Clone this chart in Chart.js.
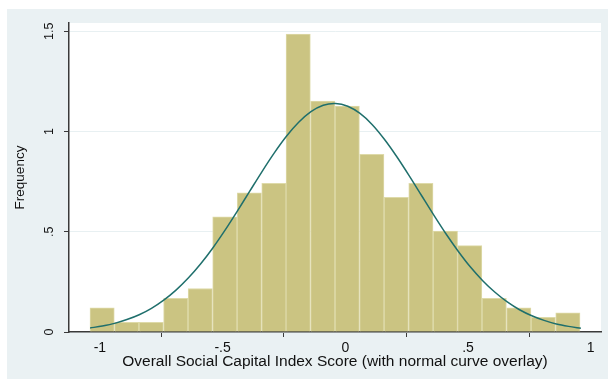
<!DOCTYPE html>
<html><head><meta charset="utf-8">
<script src="https://cdn.jsdelivr.net/npm/chart.js@4"></script>
<style>html,body{margin:0;padding:0;background:#fff;}#wrap{width:608px;height:379px;}</style>
</head><body><div id="wrap"><canvas id="c" width="608" height="379"></canvas></div>
<script>
// Histogram bins (bin centres, width ~0.1) and densities
const binCenters = [-0.991,-0.891,-0.791,-0.691,-0.591,-0.491,-0.391,-0.291,-0.192,-0.092,0.008,0.108,0.208,0.308,0.408,0.507,0.607,0.707,0.807,0.907];
const binDensity = [0.120,0.048,0.048,0.168,0.217,0.574,0.694,0.742,1.486,1.152,1.127,0.886,0.671,0.742,0.503,0.431,0.168,0.120,0.073,0.095];
// Normal curve overlay
const curveX = [-1.04,-0.99,-0.94,-0.89,-0.84,-0.79,-0.74,-0.69,-0.64,-0.59,-0.54,-0.49,-0.44,-0.39,-0.34,-0.29,-0.24,-0.19,-0.14,-0.09,-0.04,0.01,0.06,0.11,0.16,0.21,0.26,0.31,0.36,0.41,0.46,0.51,0.56,0.61,0.66,0.71,0.76,0.81,0.86,0.91,0.96];
const curveY = [0.020,0.030,0.043,0.062,0.086,0.118,0.159,0.209,0.269,0.339,0.419,0.508,0.603,0.701,0.799,0.892,0.976,1.046,1.099,1.131,1.140,1.126,1.090,1.034,0.960,0.874,0.780,0.682,0.584,0.490,0.403,0.324,0.256,0.198,0.150,0.111,0.081,0.058,0.040,0.028,0.019];
const xTickValues = [-1,-0.5,0,0.5,1];
const xTickLabels = ['-1','-.5','0','.5','1'];
const yTickValues = [0,0.5,1,1.5];
const yTickLabels = ['0','.5','1','1.5'];
const xTitle = 'Overall Social Capital Index Score (with normal curve overlay)';
const yTitle = 'Frequency';

const FONT = 'Arial, "Liberation Sans", Helvetica, sans-serif';
const bg = {
  id: 'bg',
  beforeDraw(chart) {
    const {ctx, chartArea: a} = chart;
    ctx.save();
    ctx.fillStyle = '#ffffff';
    ctx.fillRect(0, 0, chart.width, chart.height);
    ctx.fillStyle = '#eaf1f3';
    ctx.fillRect(7, 9, chart.width - 7, chart.height - 9);
    ctx.fillStyle = '#ffffff';
    ctx.fillRect(a.left, a.top, a.right - a.left, a.bottom - a.top);
    ctx.restore();
  }
};

new Chart(document.getElementById('c'), {
  type: 'bar',
  data: {
    datasets: [
      {
        type: 'line',
        order: 0,
        data: curveX.map((x, i) => ({x: x, y: curveY[i]})),
        borderColor: '#1f6f6c',
        borderWidth: 1.5,
        pointRadius: 0,
        tension: 0.3,
        fill: false
      },
      {
        type: 'bar',
        order: 1,
        data: binCenters.map((x, i) => ({x: x, y: binDensity[i]})),
        backgroundColor: '#cbc482',
        borderColor: '#dedaa9',
        borderWidth: 1,
        borderSkipped: 'bottom',
        barPercentage: 1,
        categoryPercentage: 1
      }
    ]
  },
  options: {
    responsive: false,
    animation: false,
    devicePixelRatio: 1,
    layout: {padding: {top: 23, right: 7, left: 0, bottom: 0}},
    plugins: {legend: {display: false}, tooltip: {enabled: false}},
    scales: {
      x: {
        type: 'linear',
        min: -1.126,
        max: 1.042,
        offset: false,
        afterBuildTicks: s => { s.ticks = xTickValues.map(v => ({value: v})); },
        afterFit: s => { s.height = 47; },
        ticks: {
          autoSkip: false, maxRotation: 0, minRotation: 0,
          padding: 3,
          color: '#111',
          font: {family: FONT, size: 14},
          callback: v => xTickLabels[xTickValues.indexOf(v)]
        },
        grid: {drawOnChartArea: false, drawTicks: true, tickLength: 5, tickColor: '#3a3a3a', tickWidth: 1},
        border: {display: true, color: '#3a3a3a', width: 1.5},
        title: {display: true, text: xTitle, color: '#111', font: {family: FONT, size: 15.5}, padding: {top: 0, bottom: 8}}
      },
      y: {
        type: 'linear',
        min: 0,
        max: 1.541,
        afterBuildTicks: s => { s.ticks = yTickValues.map(v => ({value: v})); },
        afterFit: s => { s.width = 69; },
        ticks: {
          minRotation: 90, maxRotation: 90,
          crossAlign: 'center',
          padding: 6,
          color: '#111',
          font: {family: FONT, size: 12.5},
          callback: v => yTickLabels[yTickValues.indexOf(v)]
        },
        grid: {color: '#e8f0f2', lineWidth: 1, drawTicks: true, tickLength: 5, tickColor: '#3a3a3a', tickWidth: 1},
        border: {display: true, color: '#3a3a3a', width: 1.5},
        title: {display: true, text: yTitle, color: '#111', font: {family: FONT, size: 13.5}, padding: {top: 12, bottom: 0}}
      }
    }
  },
  plugins: [bg]
});
</script></body></html>
